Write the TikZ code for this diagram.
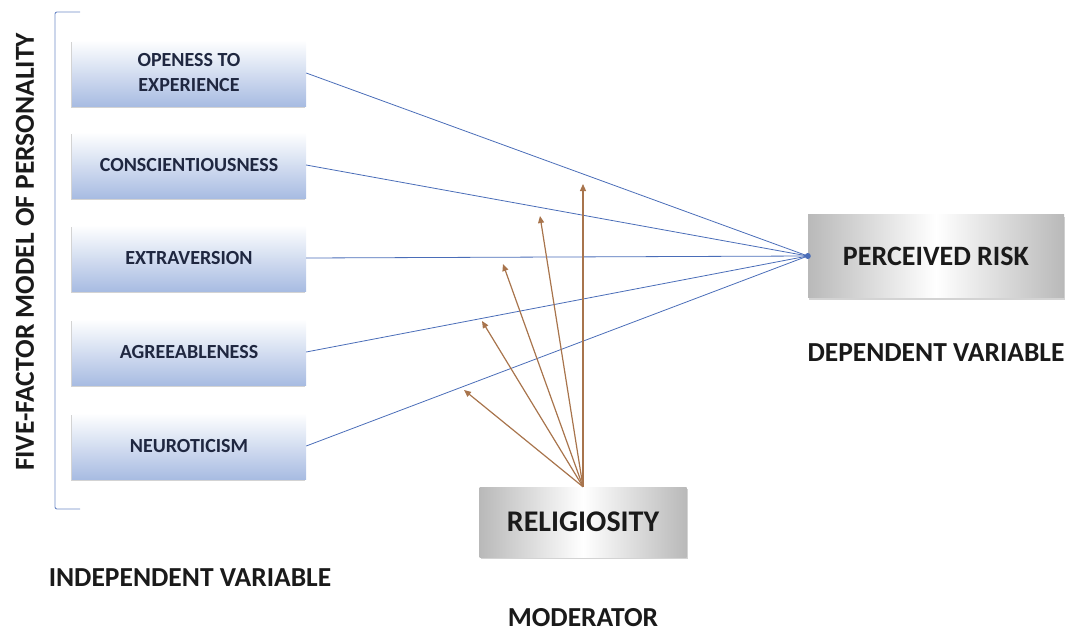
\documentclass[tikz,border=0pt]{standalone}
\usepackage{fontspec}
\setmainfont{Carlito}
\usetikzlibrary{shadows,arrows.meta}
\definecolor{navy}{HTML}{1F2740}
\definecolor{boxblue}{HTML}{A8BCE2}
\definecolor{linkblue}{HTML}{4A6DB8}
\definecolor{modbrown}{HTML}{A8744C}
\definecolor{labelgray}{HTML}{1A1A1A}
\begin{document}
\begin{tikzpicture}[x=1pt,y=-1pt,
  factor/.style={draw=none, top color=white, bottom color=boxblue,
    minimum width=234pt, minimum height=66pt, inner sep=0pt,
    font=\bfseries\fontsize{20}{25}\selectfont, text=navy, align=center,
    drop shadow={shadow xshift=-1.5pt, shadow yshift=-2pt, opacity=0.35}},
  graybox/.style={draw=none, left color=gray!55, right color=gray!55, middle color=white,
    inner sep=0pt, text=labelgray,
    drop shadow={shadow xshift=1pt, shadow yshift=-2pt, opacity=0.35}},
  caption/.style={font=\bfseries\fontsize{27.5}{30}\selectfont, text=labelgray, inner sep=0pt},
  link/.style={draw=linkblue, line width=0.8pt},
  modarrow/.style={draw=modbrown, line width=1.2pt, -{Triangle[length=7pt,width=6pt]}}
]
\useasboundingbox (0,0) rectangle (1071,632);

% bracket
\draw[linkblue!80, line width=0.9pt, rounded corners=2pt] (80,12) -- (55,12) -- (55,509) -- (80,509);
\node[caption, rotate=90] (ff) at (25,252) {FIVE-FACTOR MODEL OF PERSONALITY};

% factor boxes
\node[factor] (o) at (189,73) {OPENESS TO\\EXPERIENCE};
\node[factor] (c) at (189,165) {CONSCIENTIOUSNESS};
\node[factor] (e) at (189,258) {EXTRAVERSION};
\node[factor] (a) at (189,352) {AGREEABLENESS};
\node[factor] (n) at (189,446) {NEUROTICISM};

% dependent
\node[graybox, minimum width=256pt, minimum height=83pt,
      font=\bfseries\fontsize{28}{30}\selectfont] (pr) at (936,256) {PERCEIVED RISK};
\coordinate (hub) at (pr.west);

% moderator
\node[graybox, minimum width=207pt, minimum height=70pt,
      font=\bfseries\fontsize{30}{32}\selectfont] (rel) at (583,522) {RELIGIOSITY};

% links
\foreach \s in {o,c,e,a,n} { \draw[link] (\s.east) -- (hub); }
\fill[linkblue] (hub) circle (3pt);

% moderator arrows
\coordinate (m1) at (583,184);
\coordinate (m2) at (540,216);
\coordinate (m3) at (503,264);
\coordinate (m4) at (482,321);
\coordinate (m5) at (464,390);
\foreach \t in {m1,m2,m3,m4,m5} { \draw[modarrow] (rel.north) -- (\t); }

% captions
\node[caption] (iv) at (190,578) {INDEPENDENT VARIABLE};
\node[caption] (dv) at (936,353) {DEPENDENT VARIABLE};
\node[caption, anchor=base] (mod) at (583,626) {MODERATOR};
\end{tikzpicture}
\end{document}
